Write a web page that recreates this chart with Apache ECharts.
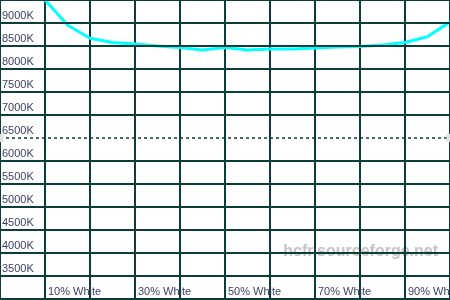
<!DOCTYPE html>
<html><head><meta charset="utf-8">
<script src="https://cdn.jsdelivr.net/npm/echarts@6/dist/echarts.min.js"></script>
<style>html,body{margin:0;padding:0;background:#fff}#c{width:450px;height:300px}</style>
</head><body><div id="c"></div>
<script>
var categories = ['0% White','5% White','10% White','15% White','20% White','25% White','30% White','35% White','40% White','45% White','50% White','55% White','60% White','65% White','70% White','75% White','80% White','85% White','90% White','95% White','100% White'];
var colorTemp = [null, 10600, 9500, 8955, 8670, 8575, 8543, 8500, 8465, 8413, 8465, 8413, 8435, 8435, 8457, 8478, 8489, 8522, 8576, 8700, 9025];
var shownLabels = ['10% White','30% White','50% White','70% White','90% White'];
var refTemp = 6500;
var yTicks = [3000, 3500, 4000, 4500, 5000, 5500, 6000, 6500, 7000, 7500, 8000, 8500, 9000, 9500, 10000];
var yHiddenLabels = [3000, 9500, 10000];
var yMin = 3000, yMax = 10000, yStep = 500;

var gridColor = '#0b3d3a';
var gridLines = yTicks.filter(function(v){ return v !== refTemp; }).map(function(v){ return {yAxis:v}; });

var chart = echarts.init(document.getElementById('c'), null, {renderer:'canvas'});
chart.setOption({
  animation:false,
  backgroundColor:'#ffffff',
  grid:{left:0, right:0, top:-23, bottom:1, containLabel:false, outerBoundsMode:'none'},
  graphic:[{type:'text', right:12, top:244, z:-10, silent:true,
    style:{text:'hcfr.sourceforge.net', fill:'#c4c4c4', font:'bold 16px "Liberation Sans", Arial, sans-serif'}}],
  xAxis:{type:'category', data:categories, boundaryGap:false,
    axisLine:{show:false}, axisTick:{show:false},
    splitLine:{show:true, interval:1, lineStyle:{color:gridColor, width:2}},
    axisLabel:{inside:true, margin:2, verticalAlign:'bottom', align:'left', padding:[0,0,0,3],
      color:'#3a3f66', fontFamily:'"Liberation Sans", Arial, sans-serif', fontSize:11,
      interval:function(i, v){ return shownLabels.indexOf(v) >= 0; }}
  },
  yAxis:{type:'value', min:yMin, max:yMax, interval:yStep,
    axisLine:{show:false}, axisTick:{show:false},
    splitLine:{show:false},
    axisLabel:{inside:true, margin:2, verticalAlign:'bottom', align:'left', padding:[0,0,2,0],
      color:'#3a3f66', fontFamily:'"Liberation Sans", Arial, sans-serif', fontSize:11,
      formatter:function(v){ return yHiddenLabels.indexOf(v) >= 0 ? '' : v + 'K'; }}
  },
  series:[
    {type:'line', data:[], silent:true, z:1,
      markLine:{silent:true, symbol:['none','none'], label:{show:false}, animation:false,
        lineStyle:{color:gridColor, width:2, type:'solid', opacity:1},
        emphasis:{disabled:true},
        data:gridLines}},
    {type:'line', data:colorTemp, showSymbol:false, symbol:'none', clip:true, z:3,
      lineStyle:{color:'#00ffff', width:3}, itemStyle:{color:'#00ffff'}, connectNulls:false,
      markLine:{silent:true, symbol:['none','none'], label:{show:false},
        lineStyle:{color:gridColor, width:1.5, type:[3,3], opacity:1},
        data:[{yAxis:refTemp}]},
      markPoint:{silent:true, symbol:'rect', symbolSize:[7,8], label:{show:false},
        itemStyle:{color:'#e0e0e0'},
        data:[{coord:[categories[0], refTemp]}, {coord:[categories[categories.length-1], refTemp]}]}
    }
  ]
});
</script></body></html>
